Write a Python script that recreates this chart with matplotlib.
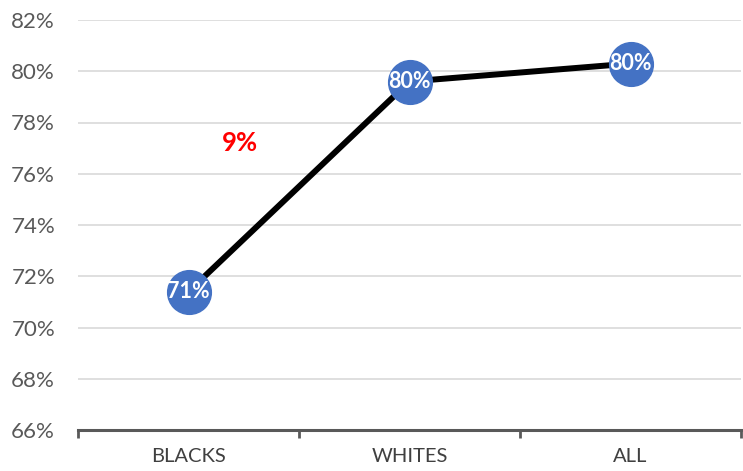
import matplotlib.pyplot as plt
import numpy as np

groups = ['BLACKS', 'WHITES', 'ALL']
rates = [71.4, 79.6, 80.3]
point_labels = ['71%', '80%', '80%']
gap_label = '9%'
y_ticks = list(range(66, 83, 2))

plt.rcParams['font.family'] = ['Lato', 'DejaVu Sans']

fig = plt.figure(figsize=(7.43, 4.71), dpi=100)
ax = fig.add_axes([78 / 743, 1 - 430 / 471, 663 / 743, 410 / 471])

x = np.arange(len(groups))
ax.plot(x, rates, color='black', lw=4.3, zorder=3, solid_capstyle='butt')
ax.plot(x, rates, 'o', color='#4472C4', ms=31.5, mec='#4472C4', zorder=4)
for xi, yi, lab in zip(x, rates, point_labels):
    ax.text(xi, yi, lab, color='white', fontsize=15.5, fontweight='bold',
            ha='center', va='center', zorder=5)

# gap between the lowest and highest groups
ax.text(0.235, 77.2, gap_label, color='#FF0000', fontsize=18.5, fontweight='bold',
        ha='center', va='center')

ax.set_xlim(-0.5, len(groups) - 0.5)
ax.set_ylim(66, 82)
ax.set_yticks(y_ticks)
ax.set_yticklabels([f'{t}%' for t in y_ticks])
ax.yaxis.grid(True, color='#D9D9D9', lw=1.2)
ax.set_axisbelow(True)

# category boundaries carry the tick marks, labels sit in the middle
ax.set_xticks(np.arange(-0.5, len(groups), 1.0))
ax.set_xticklabels([])
ax.set_xticks(x, minor=True)
ax.set_xticklabels(groups, minor=True)
ax.tick_params(axis='x', which='major', length=6, width=2, color='#595959', direction='out')
ax.tick_params(axis='x', which='minor', length=0, pad=13, labelsize=14.5, labelcolor='#404040')
ax.tick_params(axis='y', length=0, pad=16.5, labelsize=16, labelcolor='#595959')

for side in ['top', 'right', 'left']:
    ax.spines[side].set_visible(False)
ax.spines['bottom'].set_color('#595959')
ax.spines['bottom'].set_linewidth(2.2)

fig.savefig('out.png', dpi=100)
